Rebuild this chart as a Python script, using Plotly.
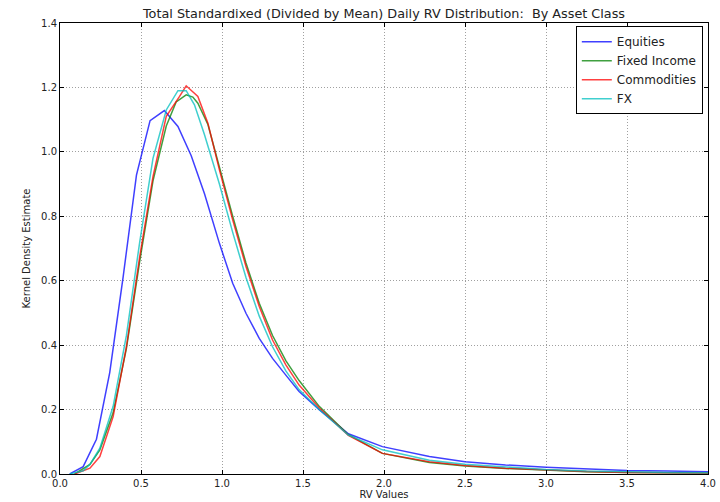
import plotly.graph_objects as go

# ---- data ----
eq_x = [0.06, 0.143, 0.225, 0.307, 0.39, 0.472, 0.556, 0.644, 0.728, 0.81, 0.892, 0.984, 1.066, 1.148,
        1.23, 1.312, 1.394, 1.476, 1.6, 1.78, 1.99, 2.28, 2.5, 2.75, 3.0, 3.25, 3.5, 3.75, 4.0]
eq_y = [0.0, 0.023, 0.108, 0.315, 0.613, 0.928, 1.097, 1.128, 1.079, 0.988, 0.87, 0.716, 0.592, 0.499,
        0.421, 0.359, 0.307, 0.256, 0.2, 0.125, 0.085, 0.054, 0.038, 0.028, 0.021, 0.015, 0.011, 0.009, 0.007]

fi_x = [0.09, 0.185, 0.246, 0.328, 0.41, 0.492, 0.574, 0.656, 0.717, 0.779, 0.82, 0.851, 0.913, 0.984,
        1.066, 1.148, 1.23, 1.312, 1.394, 1.476, 1.6, 1.78, 1.99, 2.28, 2.5, 2.75, 3.0, 3.25, 3.5, 3.75, 4.0]
fi_y = [0.0, 0.03, 0.075, 0.19, 0.39, 0.66, 0.91, 1.08, 1.155, 1.177, 1.17, 1.151, 1.085, 0.95,
        0.80, 0.655, 0.53, 0.43, 0.352, 0.29, 0.21, 0.122, 0.064, 0.036, 0.025, 0.017, 0.011, 0.007, 0.005, 0.004, 0.003]

co_x = [0.09, 0.185, 0.246, 0.328, 0.41, 0.492, 0.574, 0.656, 0.738, 0.779, 0.851, 0.913, 0.984, 1.066,
        1.148, 1.23, 1.312, 1.394, 1.476, 1.6, 1.78, 1.99, 2.28, 2.5, 2.75, 3.0, 3.25, 3.5, 3.75, 4.0]
co_y = [0.0, 0.018, 0.054, 0.178, 0.395, 0.675, 0.923, 1.11, 1.172, 1.205, 1.172, 1.089, 0.944, 0.789,
        0.644, 0.52, 0.416, 0.339, 0.276, 0.205, 0.12, 0.064, 0.038, 0.026, 0.018, 0.012, 0.008, 0.005, 0.004, 0.003]

fx_x = [0.06, 0.143, 0.185, 0.246, 0.328, 0.41, 0.492, 0.574, 0.656, 0.728, 0.779, 0.83, 0.892, 0.984,
        1.066, 1.148, 1.23, 1.312, 1.394, 1.476, 1.6, 1.78, 1.99, 2.28, 2.5, 2.75, 3.0, 3.25, 3.5, 3.75, 4.0]
fx_y = [0.0, 0.01, 0.03, 0.08, 0.21, 0.43, 0.72, 0.98, 1.13, 1.19, 1.19, 1.146, 1.053, 0.90,
        0.75, 0.61, 0.49, 0.395, 0.32, 0.262, 0.2, 0.121, 0.075, 0.043, 0.03, 0.021, 0.014, 0.009, 0.006, 0.005, 0.004]

series = [
    ("Equities", eq_x, eq_y, "#0000ff"),
    ("Fixed Income", fi_x, fi_y, "#008000"),
    ("Commodities", co_x, co_y, "#ff0000"),
    ("FX", fx_x, fx_y, "#00bfbf"),
]

fig = go.Figure()
for name, xs, ys, col in series:
    fig.add_trace(go.Scatter(x=xs, y=ys, mode="lines", name=name,
                             line=dict(color=col, width=1.5), opacity=0.75))

axis_common = dict(
    showline=True, linecolor="black", linewidth=1, mirror="allticks",
    ticks="inside", ticklen=4, tickcolor="black",
    showgrid=True, gridcolor="#a0a0a0", griddash="1px,2px", gridwidth=1,
    zeroline=False, tickfont=dict(family="DejaVu Sans", size=10, color="#222"),
    automargin=False,
)

fig.update_layout(
    width=720, height=502,
    margin=dict(l=60, r=12, t=23, b=28),
    paper_bgcolor="white", plot_bgcolor="white",
    font=dict(family="DejaVu Sans", color="#222"),
    title=dict(text="Total Standardixed (Divided by Mean) Daily RV Distribution:  By Asset Class",
               x=0.5, xref="paper", xanchor="center", y=1, yref="paper", yanchor="bottom",
               pad=dict(b=5), font=dict(size=12.8, family="DejaVu Sans", color="#222")),
    legend=dict(x=0.992, y=0.993, xanchor="right", yanchor="top",
                bordercolor="black", borderwidth=1, bgcolor="white",
                font=dict(size=12, family="DejaVu Sans", color="#222"),
                tracegroupgap=0, itemwidth=30),
    showlegend=True,
)
fig.update_xaxes(range=[0, 4.0], tickvals=[0, 0.5, 1, 1.5, 2, 2.5, 3, 3.5, 4], tickformat=".1f",
                 title=dict(text="RV Values", font=dict(size=10), standoff=2), **axis_common)
fig.update_yaxes(range=[0, 1.4], tickvals=[0, 0.2, 0.4, 0.6, 0.8, 1.0, 1.2, 1.4], tickformat=".1f",
                 title=dict(text="Kernel Density Estimate", font=dict(size=10), standoff=8), **axis_common)

fig.write_html("out.html")
